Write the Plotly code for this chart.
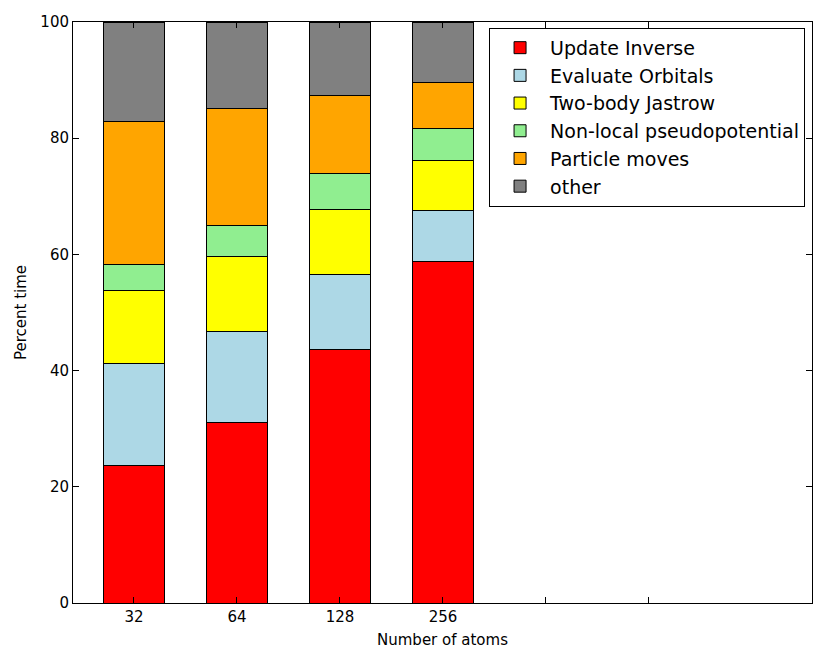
import plotly.graph_objects as go

categories = ["32", "64", "128", "256"]
series_names = ["Update Inverse", "Evaluate Orbitals", "Two-body Jastrow",
                "Non-local pseudopotential", "Particle moves", "other"]
update_inverse = [23.6, 31.0, 43.7, 58.7]
evaluate_orbitals = [17.7, 15.8, 12.9, 8.9]
two_body_jastrow = [12.45, 12.8, 11.2, 8.5]
nonlocal_pp = [4.55, 5.3, 6.2, 5.5]
particle_moves = [24.5, 20.2, 13.4, 8.0]
other = [17.2, 14.9, 12.6, 10.4]
colors = ["#ff0000", "#add8e6", "#ffff00", "#90ee90", "#ffa500", "#808080"]
tick_labels = categories + ["", ""]

series = [update_inverse, evaluate_orbitals, two_body_jastrow,
          nonlocal_pp, particle_moves, other]
xpos = list(range(len(categories)))

fig = go.Figure()
for i, (name, vals, col) in enumerate(zip(series_names, series, colors)):
    fig.add_trace(go.Bar(
        x=xpos, y=vals, name=name, width=0.6,
        marker=dict(color=col, line=dict(color="black", width=1)),
        legendgroup=str(i),
    ))

fig.update_layout(
    width=813, height=649,
    margin=dict(l=73, r=1, t=22, b=46),
    barmode="stack",
    plot_bgcolor="white", paper_bgcolor="white",
    font=dict(family="DejaVu Sans", size=15, color="black"),
    showlegend=True,
    legend=dict(
        x=0.563, y=0.99, xanchor="left", yanchor="top",
        bordercolor="black", borderwidth=1, bgcolor="white",
        font=dict(size=19, family="DejaVu Sans"),
        traceorder="grouped", tracegroupgap=0, itemwidth=50,
    ),
    xaxis=dict(
        range=[-0.592, 6.583], tickmode="array",
        tickvals=list(range(len(tick_labels))), ticktext=tick_labels,
        ticks="inside", ticklen=6, tickcolor="black",
        showline=True, linecolor="black", linewidth=1, mirror="ticks",
        showgrid=False, zeroline=False, automargin=False,
        title=dict(text="Number of atoms", font=dict(size=15), standoff=12),
    ),
    yaxis=dict(
        range=[0, 100], tickvals=[0, 20, 40, 60, 80, 100],
        ticks="inside", ticklen=6, tickcolor="black",
        showline=True, linecolor="black", linewidth=1, mirror="ticks",
        showgrid=False, zeroline=False, automargin=False,
        title=dict(text="Percent time", font=dict(size=15), standoff=10),
    ),
)

fig.write_html("out.html", config={"responsive": False, "displayModeBar": False},
               post_script="document.body.style.margin='0px';")
